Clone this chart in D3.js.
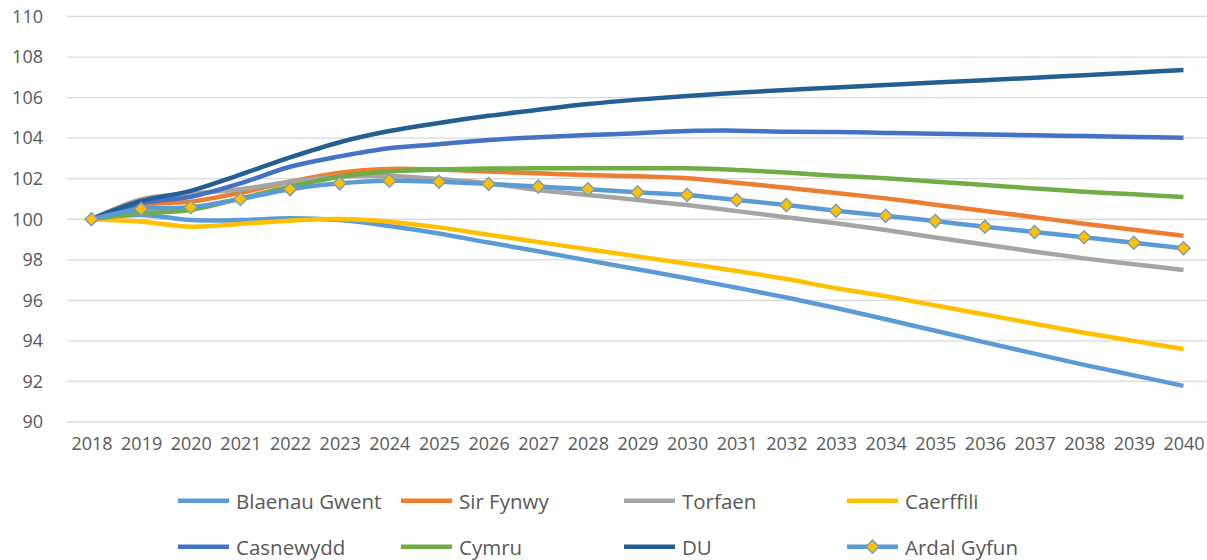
<!DOCTYPE html>
<html><head><meta charset="utf-8">
<script src="https://cdn.jsdelivr.net/npm/d3@7"></script>
<style>
html,body{margin:0;padding:0;background:#fff;}
svg{display:block;font-family:"Open Sans",sans-serif;}
</style></head>
<body><svg id="chart" width="1207" height="560"></svg>
<script>
const years = ["2018","2019","2020","2021","2022","2023","2024","2025","2026","2027","2028","2029","2030","2031","2032","2033","2034","2035","2036","2037","2038","2039","2040"];
const yTicks = [90,92,94,96,98,100,102,104,106,108,110];

const blaenauGwent = [100,100.21,99.96,99.96,100.05,99.96,99.67,99.3,98.85,98.42,97.97,97.53,97.09,96.62,96.14,95.62,95.07,94.5,93.93,93.37,92.82,92.3,91.78];
const sirFynwy     = [100,100.7,100.87,101.31,101.85,102.3,102.48,102.45,102.35,102.27,102.18,102.12,102.02,101.8,101.55,101.3,101.03,100.72,100.41,100.1,99.78,99.48,99.19];
const torfaen      = [100,100.98,101.25,101.48,101.85,102.1,102.13,101.98,101.77,101.44,101.2,100.95,100.7,100.4,100.1,99.8,99.47,99.1,98.75,98.4,98.07,97.78,97.5];
const caerffili    = [100,99.88,99.63,99.77,99.93,100.01,99.88,99.6,99.24,98.88,98.52,98.17,97.81,97.45,97.05,96.6,96.2,95.75,95.3,94.85,94.4,94.0,93.6];
const casnewydd    = [100,100.79,101.11,101.77,102.59,103.1,103.5,103.7,103.91,104.04,104.15,104.24,104.35,104.37,104.32,104.3,104.26,104.22,104.18,104.14,104.1,104.06,104.02];
const cymru        = [100,100.29,100.46,101.03,101.6,102.1,102.35,102.45,102.5,102.51,102.51,102.51,102.51,102.43,102.3,102.15,102.02,101.85,101.69,101.52,101.36,101.23,101.1];
const du           = [100,100.9,101.4,102.2,103.05,103.8,104.35,104.75,105.1,105.4,105.68,105.9,106.08,106.24,106.38,106.5,106.62,106.74,106.86,106.98,107.1,107.23,107.36];
const ardalGyfun   = [100,100.51,100.59,101.0,101.48,101.77,101.9,101.85,101.74,101.61,101.48,101.33,101.2,100.95,100.7,100.42,100.17,99.91,99.63,99.37,99.11,98.84,98.57];

const seriesNames = ["Blaenau Gwent","Sir Fynwy","Torfaen","Caerffili","Casnewydd","Cymru","DU","Ardal Gyfun"];
const seriesValues = [blaenauGwent,sirFynwy,torfaen,caerffili,casnewydd,cymru,du,ardalGyfun];
const seriesColors = ["#5B9BD5","#ED7D31","#A5A5A5","#FFC000","#4472C4","#70AD47","#255E91","#5B9BD5"];

const svg = d3.select("#chart");
const plotLeft = 66.7, plotRight = 1208.3, plotTop = 16.5, plotBottom = 422;
const x = d3.scalePoint().domain(years).range([plotLeft, plotRight]).padding(0.5);
const y = d3.scaleLinear().domain([90,110]).range([plotBottom, plotTop]);

// gridlines
svg.append("g").selectAll("line").data(yTicks).join("line")
  .attr("x1", plotLeft).attr("x2", 1207)
  .attr("y1", d => y(d)).attr("y2", d => y(d))
  .attr("stroke", "#D9D9D9").attr("stroke-width", 1.3);

// y axis labels
const yAxis = d3.axisLeft(y).tickValues(yTicks).tickSize(0).tickPadding(0);
const gy = svg.append("g").attr("transform", "translate(43,0)").call(yAxis);
gy.select(".domain").remove();
gy.selectAll("text").attr("font-family", "Open Sans").attr("font-size", 18).attr("fill", "#595959");

// x axis labels
const xAxis = d3.axisBottom(x).tickSize(0).tickPadding(0);
const gx = svg.append("g").attr("transform", "translate(0,437)").call(xAxis);
gx.select(".domain").remove();
gx.selectAll("text").attr("font-family", "Open Sans").attr("font-size", 18).attr("fill", "#595959").attr("dy", "0.71em");

// lines
const line = d3.line().x((d,i) => x(years[i])).y(d => y(d)).curve(d3.curveCatmullRom.alpha(0.5));
seriesValues.forEach((vals, k) => {
  svg.append("path").datum(vals)
    .attr("d", line).attr("fill", "none")
    .attr("stroke", seriesColors[k]).attr("stroke-width", 4.5)
    .attr("stroke-linejoin", "round").attr("stroke-linecap", "butt");
});

// markers for Ardal Gyfun
const diamond = d3.symbol().type(d3.symbolSquare).size(85);
svg.append("g").selectAll("path").data(ardalGyfun).join("path")
  .attr("d", diamond)
  .attr("transform", (d,i) => `translate(${x(years[i])},${y(d)}) rotate(45)`)
  .attr("fill", "#FFC000").attr("stroke", "#7C9CB8").attr("stroke-width", 1.5);

// legend
const legX = [178, 401, 624, 847];
const legY = [500.7, 546.7];
seriesNames.forEach((name, k) => {
  const cx = legX[k % 4], cy = legY[Math.floor(k / 4)];
  const g = svg.append("g");
  g.append("line").attr("x1", cx).attr("x2", cx + 51).attr("y1", cy).attr("y2", cy)
    .attr("stroke", seriesColors[k]).attr("stroke-width", 4.5);
  if (k === 7) {
    g.append("path").attr("d", diamond)
      .attr("transform", `translate(${cx + 25.5},${cy}) rotate(45)`)
      .attr("fill", "#FFC000").attr("stroke", "#7C9CB8").attr("stroke-width", 1.5);
  }
  g.append("text").attr("x", cx + 58).attr("y", cy + 8.3)
    .attr("font-family", "Open Sans").attr("font-size", 20.5).attr("fill", "#595959")
    .text(name);
});
</script>
</body></html>
